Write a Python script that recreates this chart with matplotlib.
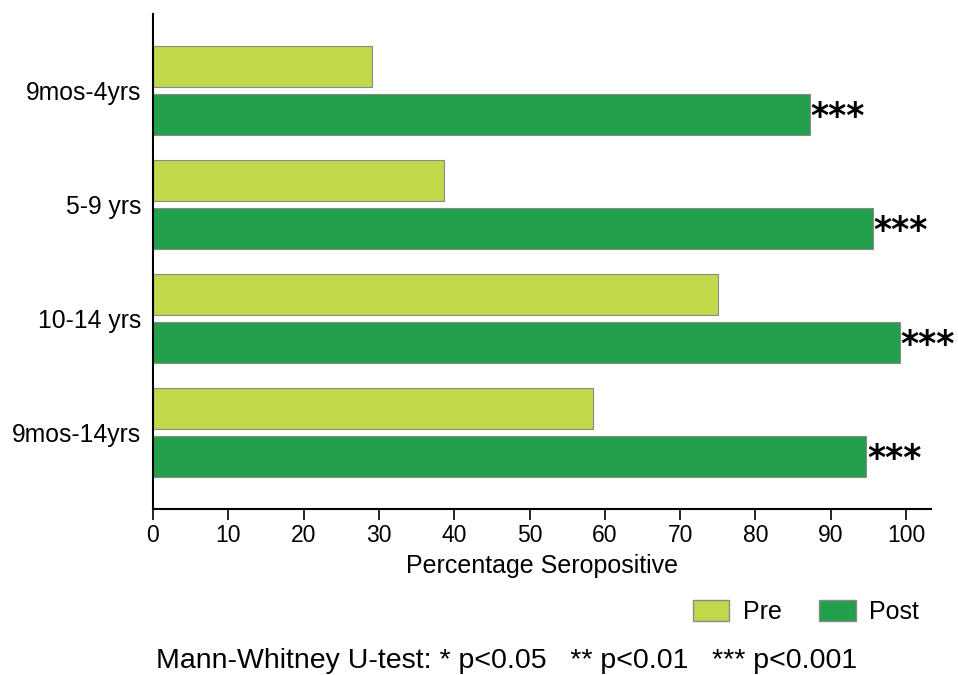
import matplotlib.pyplot as plt
from matplotlib.patches import Patch
import numpy as np

plt.rcParams['font.family'] = ['Liberation Sans', 'DejaVu Sans']

groups = ["9mos-4yrs", "5-9 yrs", "10-14 yrs", "9mos-14yrs"]
pre = [29.1, 38.6, 75.0, 58.4]
post = [87.2, 95.6, 99.2, 94.7]
signif = ["***", "***", "***", "***"]
pre_color = "#C1D84A"
post_color = "#23A04B"

fig = plt.figure(figsize=(9.58, 6.75), dpi=100)
ax = fig.add_axes([0.1597, 0.2459, 0.812, 0.733])

y = np.arange(len(groups))
h = 0.36
ax.barh(y - 0.21, pre, height=h, color=pre_color, edgecolor="#8a8a8a", linewidth=0.8)
ax.barh(y + 0.21, post, height=h, color=post_color, edgecolor="#8a8a8a", linewidth=0.8)
for yi, v, s in zip(y, post, signif):
    ax.text(v + 0.1, yi + 0.23, s, fontsize=25, fontweight="bold", family="DejaVu Sans",
            va="center", ha="left")

ax.set_xlim(0, 103.3)
ax.set_ylim(3.67, -0.67)
ax.set_xticks(range(0, 101, 10))
ax.set_yticks(y)
ax.set_yticklabels(groups)
ax.tick_params(axis="x", length=8, width=1.2, labelsize=16.5, pad=3)
ax.tick_params(axis="y", length=0, labelsize=17.8, pad=8.5)
for side in ["top", "right"]:
    ax.spines[side].set_visible(False)
for side in ["left", "bottom"]:
    ax.spines[side].set_linewidth(1.5)
ax.set_xlabel("Percentage Seropositive", fontsize=18, labelpad=5)

handles = [Patch(facecolor=pre_color, edgecolor="#8a8a8a"), Patch(facecolor=post_color, edgecolor="#8a8a8a")]
fig.legend(handles, ["Pre", "Post"], loc="center", bbox_to_anchor=(806 / 958, 1 - 612 / 675),
           ncol=2, frameon=False, fontsize=18, handlelength=1.45, handleheight=0.95,
           columnspacing=1.5, handletextpad=0.55)
fig.text(507 / 958, 1 - 661 / 675, "Mann-Whitney U-test: * p<0.05   ** p<0.01   *** p<0.001",
         fontsize=20.5, ha="center", va="center")

fig.savefig("out.png", dpi=100)
